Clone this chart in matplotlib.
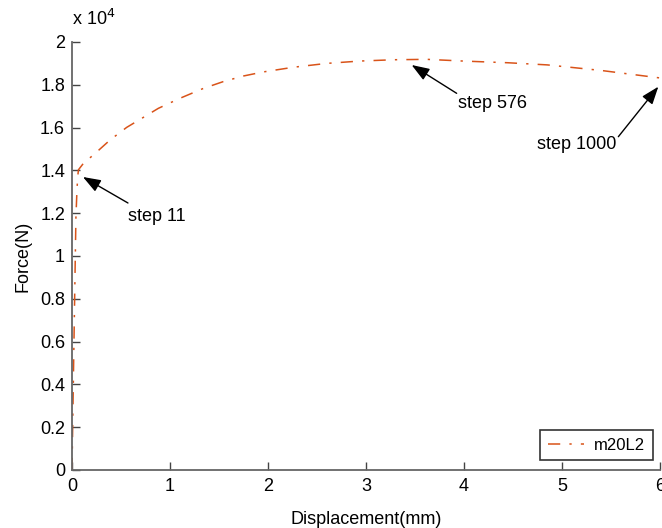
import matplotlib
matplotlib.use("Agg")
import matplotlib.pyplot as plt
from matplotlib.ticker import FuncFormatter, FixedLocator

plt.rcParams['font.family'] = ['Liberation Sans', 'DejaVu Sans']

# Data (displacement in mm, force in N)
displacement = [0.0, 0.02, 0.04, 0.05, 0.058, 0.066, 0.12, 0.218, 0.388, 0.558, 0.711,
                0.881, 1.102, 1.340, 1.544, 1.748, 1.95, 2.259, 2.599, 2.939, 3.279,
                3.619, 3.99, 4.45, 4.85, 5.4, 6.0]
force = [0, 6000, 11800, 13000, 13700, 14030, 14350, 14720, 15420, 16010, 16430,
         16900, 17370, 17830, 18150, 18410, 18600, 18820, 19000, 19110, 19170,
         19190, 19110, 19030, 18930, 18670, 18320]

series_name = "m20L2"
ann_labels = ["step 11", "step 576", "step 1000"]
ann_tip = [(0.112, 13692), (3.466, 18925), (5.983, 17912)]
ann_start = [(0.571, 12477), (3.925, 17602), (5.575, 15575)]
ann_text = [(0.867, 11869), (4.286, 17103), (5.153, 15187)]

xticks = [0, 1, 2, 3, 4, 5, 6]
yticks = [0, 2000, 4000, 6000, 8000, 10000, 12000, 14000, 16000, 18000, 20000]

W, H = 662, 528
fig = plt.figure(figsize=(W / 100, H / 100), dpi=100)
ax = fig.add_axes([72 / W, 1 - 470 / H, (660 - 72) / W, (470 - 42) / H])

color = '#D95319'
ax.plot(displacement, force, color=color, lw=1.1, linestyle=(0, (8, 6, 1.5, 6)),
        label=series_name)

ax.set_xlim(0, 6)
ax.set_ylim(0, 20000)
ax.xaxis.set_major_locator(FixedLocator(xticks))
ax.yaxis.set_major_locator(FixedLocator(yticks))
ax.yaxis.set_major_formatter(FuncFormatter(lambda v, p: f"{v / 1e4:g}"))
ax.xaxis.set_major_formatter(FuncFormatter(lambda v, p: f"{v:g}"))

for s in ['top', 'right']:
    ax.spines[s].set_visible(False)
for s in ['left', 'bottom']:
    ax.spines[s].set_color('#666666')
    ax.spines[s].set_linewidth(1.3)
ax.tick_params(direction='in', length=6, width=1, colors='#444444',
               labelcolor='black', labelsize=13)
ax.tick_params(axis='x', pad=6)
ax.tick_params(axis='y', pad=5)

ax.set_xlabel("Displacement(mm)", fontsize=13, labelpad=11)
ax.set_ylabel("Force(N)", fontsize=13, labelpad=6)
ax.text(0.0, 1.03, r"x 10$^4$", transform=ax.transAxes, fontsize=13,
        ha='left', va='bottom')

for lab, tip, st, txt in zip(ann_labels, ann_tip, ann_start, ann_text):
    ax.text(txt[0], txt[1], lab, fontsize=13, ha='center', va='center')
    ax.annotate("", xy=tip, xytext=st,
                arrowprops=dict(arrowstyle='-|>,head_length=0.6,head_width=0.22',
                                color='black', lw=1.0, mutation_scale=18,
                                shrinkA=0, shrinkB=0))

leg = ax.legend(loc='lower right', bbox_to_anchor=(0.988, 0.023), fontsize=12,
                frameon=True, fancybox=False, edgecolor='black', handlelength=2.2,
                borderpad=0.45, handletextpad=0.6, borderaxespad=0)
leg.get_frame().set_linewidth(1.2)

fig.savefig("out.png", dpi=100)
